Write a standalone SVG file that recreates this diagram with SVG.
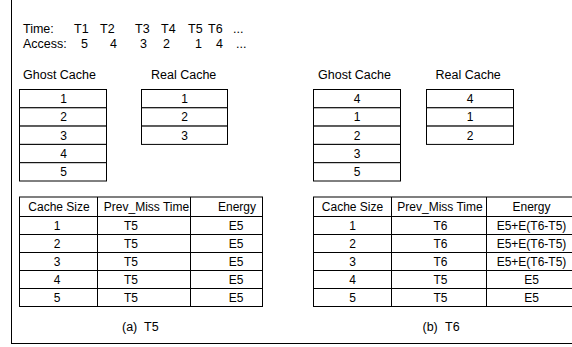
<svg xmlns="http://www.w3.org/2000/svg" width="572" height="347" viewBox="0 0 572 347">
<style>
.bg{fill:#fff}
.cell{fill:#fff;stroke:#000;stroke-width:1}
.frame{fill:none;stroke:#000;stroke-width:1}
.t{font-family:"Liberation Sans",Arial,sans-serif;font-size:12px;fill:#000}
.l{font-size:12.5px}
.c{text-anchor:middle}
</style>
<rect class="bg" x="0" y="0" width="572" height="347"/>
<rect class="frame" x="11.5" y="-5" width="600" height="348.5"/>
<g id="sequence">
<text class="t l" x="23" y="32.5">Time:</text>
<text class="t l" x="74" y="32.5">T1</text>
<text class="t l" x="100" y="32.5">T2</text>
<text class="t l" x="135" y="32.5">T3</text>
<text class="t l" x="161" y="32.5">T4</text>
<text class="t l" x="188" y="32.5">T5</text>
<text class="t l" x="208" y="32.5">T6</text>
<text class="t l" x="233" y="32.5">...</text>
<text class="t l" x="23" y="47.5">Access:</text>
<text class="t l" x="81" y="47.5">5</text>
<text class="t l" x="110" y="47.5">4</text>
<text class="t l" x="140" y="47.5">3</text>
<text class="t l" x="163" y="47.5">2</text>
<text class="t l" x="195" y="47.5">1</text>
<text class="t l" x="216" y="47.5">4</text>
<text class="t l" x="236" y="47.5">...</text>
</g>
<g id="ghost-a">
<text class="t l" x="23" y="78.5">Ghost Cache</text>
<rect class="cell" x="19.5" y="89.5" width="87" height="18.3"/>
<rect class="cell" x="19.5" y="107.8" width="87" height="18.3"/>
<rect class="cell" x="19.5" y="126.1" width="87" height="18.3"/>
<rect class="cell" x="19.5" y="144.4" width="87" height="18.3"/>
<rect class="cell" x="19.5" y="162.7" width="87" height="18.3"/>
<text class="t c" x="63.5" y="103">1</text>
<text class="t c" x="63.5" y="121.3">2</text>
<text class="t c" x="63.5" y="139.6">3</text>
<text class="t c" x="63.5" y="157.9">4</text>
<text class="t c" x="63.5" y="176.2">5</text>
</g>
<g id="real-a">
<text class="t l" x="151" y="78.5">Real Cache</text>
<rect class="cell" x="141.5" y="89.5" width="86" height="18.3"/>
<rect class="cell" x="141.5" y="107.8" width="86" height="18.3"/>
<rect class="cell" x="141.5" y="126.1" width="86" height="18.3"/>
<text class="t c" x="184.5" y="103">1</text>
<text class="t c" x="184.5" y="121.3">2</text>
<text class="t c" x="184.5" y="139.6">3</text>
</g>
<g id="ghost-b">
<text class="t l" x="318" y="78.5">Ghost Cache</text>
<rect class="cell" x="313.5" y="89.5" width="87" height="18.3"/>
<rect class="cell" x="313.5" y="107.8" width="87" height="18.3"/>
<rect class="cell" x="313.5" y="126.1" width="87" height="18.3"/>
<rect class="cell" x="313.5" y="144.4" width="87" height="18.3"/>
<rect class="cell" x="313.5" y="162.7" width="87" height="18.3"/>
<text class="t c" x="357" y="103">4</text>
<text class="t c" x="357" y="121.3">1</text>
<text class="t c" x="357" y="139.6">2</text>
<text class="t c" x="357" y="157.9">3</text>
<text class="t c" x="357" y="176.2">5</text>
</g>
<g id="real-b">
<text class="t l" x="435.5" y="78.5">Real Cache</text>
<rect class="cell" x="426.5" y="89.5" width="87" height="18.3"/>
<rect class="cell" x="426.5" y="107.8" width="87" height="18.3"/>
<rect class="cell" x="426.5" y="126.1" width="87" height="18.3"/>
<text class="t c" x="470" y="103">4</text>
<text class="t c" x="470" y="121.3">1</text>
<text class="t c" x="470" y="139.6">2</text>
</g>
<g id="table-a">
<rect class="cell" x="19.5" y="197" width="243" height="109.5"/>
<path class="frame" d="M19.5 216.5H262.5M19.5 234.5H262.5M19.5 252.5H262.5M19.5 270.5H262.5M19.5 288.5H262.5M97.5 197V306.5M190.5 197V306.5"/>
<text class="t c" x="59" y="211">Cache Size</text>
<text class="t c" x="146.5" y="211">Prev_Miss Time</text>
<text class="t c" x="237" y="211">Energy</text>
<text class="t c" x="57" y="229.5">1</text><text class="t c" x="131" y="229.5">T5</text><text class="t c" x="236" y="229.5">E5</text>
<text class="t c" x="57" y="247.5">2</text><text class="t c" x="131" y="247.5">T5</text><text class="t c" x="236" y="247.5">E5</text>
<text class="t c" x="57" y="265.5">3</text><text class="t c" x="131" y="265.5">T5</text><text class="t c" x="236" y="265.5">E5</text>
<text class="t c" x="57" y="283.5">4</text><text class="t c" x="131" y="283.5">T5</text><text class="t c" x="236" y="283.5">E5</text>
<text class="t c" x="57" y="301.5">5</text><text class="t c" x="131" y="301.5">T5</text><text class="t c" x="236" y="301.5">E5</text>
<text class="t l" x="122" y="330.5">(a)</text>
<text class="t l" x="144" y="330.5">T5</text>
</g>
<g id="table-b">
<rect class="cell" x="313.5" y="197" width="264" height="109.5"/>
<path class="frame" d="M313.5 216.5H577.5M313.5 234.5H577.5M313.5 252.5H577.5M313.5 270.5H577.5M313.5 288.5H577.5M391.5 197V306.5M486.5 197V306.5"/>
<text class="t c" x="352.5" y="211">Cache Size</text>
<text class="t c" x="440" y="211">Prev_Miss Time</text>
<text class="t c" x="531.5" y="211">Energy</text>
<text class="t c" x="352.5" y="229.5">1</text><text class="t c" x="440.5" y="229.5">T6</text><text class="t c" x="531.5" y="229.5">E5+E(T6-T5)</text>
<text class="t c" x="352.5" y="247.5">2</text><text class="t c" x="440.5" y="247.5">T6</text><text class="t c" x="531.5" y="247.5">E5+E(T6-T5)</text>
<text class="t c" x="352.5" y="265.5">3</text><text class="t c" x="440.5" y="265.5">T6</text><text class="t c" x="531.5" y="265.5">E5+E(T6-T5)</text>
<text class="t c" x="352.5" y="283.5">4</text><text class="t c" x="440.5" y="283.5">T5</text><text class="t c" x="531.5" y="283.5">E5</text>
<text class="t c" x="352.5" y="301.5">5</text><text class="t c" x="440.5" y="301.5">T5</text><text class="t c" x="531.5" y="301.5">E5</text>
<text class="t l" x="422.5" y="330.5">(b)</text>
<text class="t l" x="445" y="330.5">T6</text>
</g>
</svg>
